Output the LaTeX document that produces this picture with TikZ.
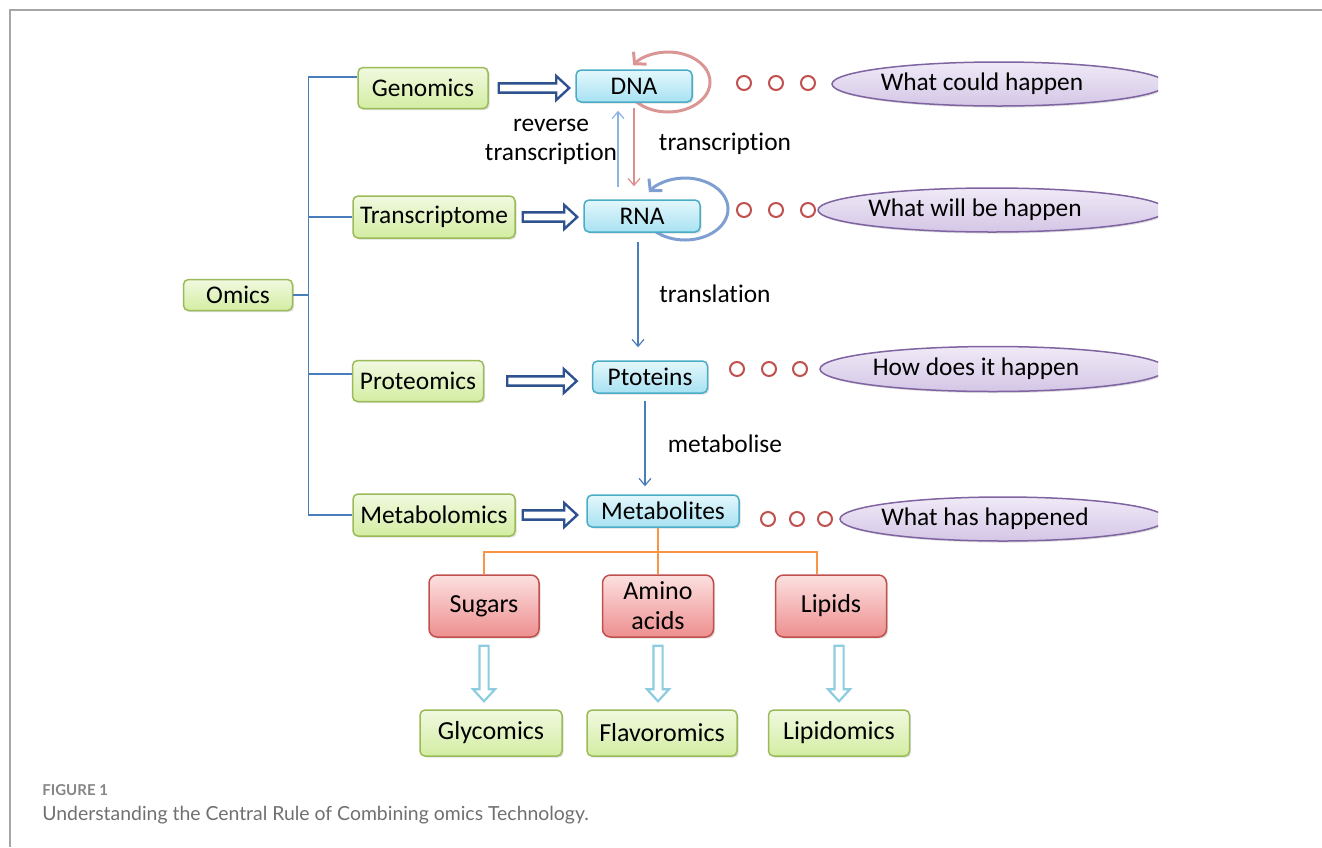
\documentclass[tikz,border=0pt]{standalone}
\usepackage{fontspec}
\setmainfont{Carlito}[Ligatures=NoCommon]
\newfontfamily\capfont{Lato}
\usetikzlibrary{calc,positioning,shapes.geometric,shadows,backgrounds}
\usetikzlibrary{arrows.meta}

\definecolor{grnline}{HTML}{9BBB59}
\definecolor{grntop}{HTML}{F1F9E0}
\definecolor{grnbot}{HTML}{D3EDA2}
\definecolor{cyanline}{HTML}{4BACC6}
\definecolor{cyantop}{HTML}{E3F7FC}
\definecolor{cyanbot}{HTML}{A8E2F2}
\definecolor{redline}{HTML}{C0504D}
\definecolor{redtop}{HTML}{FCE0E0}
\definecolor{redbot}{HTML}{EE8F8F}
\definecolor{purpline}{HTML}{8064A2}
\definecolor{purptop}{HTML}{F0EAF7}
\definecolor{purpbot}{HTML}{D4C6E6}
\definecolor{navy}{HTML}{2E528F}
\definecolor{lineblue}{HTML}{4A7EBB}
\definecolor{paleblue}{HTML}{8DB3E2}
\definecolor{palered}{HTML}{DA8F8C}
\definecolor{loopblue}{HTML}{7F9FD3}
\definecolor{loopred}{HTML}{D99694}
\definecolor{sky}{HTML}{8ECDE0}
\definecolor{orangeline}{HTML}{F79646}
\definecolor{capgray}{HTML}{707070}
\definecolor{framegray}{HTML}{A6A6A6}

\tikzset{
  box/.style={rectangle, rounded corners=2.5pt, line width=0.75pt, inner sep=0pt,
    drop shadow={opacity=0.25, shadow xshift=0.8pt, shadow yshift=-0.8pt},
    font=\fontsize{12.7}{14}\selectfont},
  omicbox/.style={box, draw=grnline, top color=grntop, bottom color=grnbot},
  molbox/.style={box, draw=cyanline, top color=cyantop, bottom color=cyanbot},
  classbox/.style={box, rounded corners=4pt, draw=redline, top color=redtop, bottom color=redbot,
    align=center, font=\fontsize{13}{15}\selectfont},
  question/.style={ellipse, line width=0.75pt, draw=purpline, top color=purptop, bottom color=purpbot,
    inner sep=0pt, drop shadow={opacity=0.25, shadow xshift=0.8pt, shadow yshift=-0.8pt}},
  qtext/.style={font=\fontsize{12.7}{14}\selectfont},
  lbl/.style={font=\fontsize{12.7}{14.5}\selectfont, align=center},
  btree/.style={lineblue, line width=0.6pt},
  otree/.style={orangeline, line width=0.8pt},
  thinarrow/.style={line width=0.6pt, -{Straight Barb[length=3.5pt,width=6pt]}},
  loopline/.style={line width=1.5pt, -{Straight Barb[length=4pt,width=9pt]}},
  hollow/.style={draw=navy, line width=1.2pt, fill=white, line join=miter},
  hollowsky/.style={draw=sky, line width=1.1pt, fill=white, line join=miter},
  dots/.style={redline, line width=1pt},
}

% block arrows (pointing right / pointing down)
\newcommand{\hollowright}[2]{\draw[hollow] let \p1=(#1), \p2=(#2) in
  (\x1,\y1+2.3pt) -- (\x2-6.5pt,\y1+2.3pt) -- (\x2-6.5pt,\y1+6pt) -- (\x2,\y1)
  -- (\x2-6.5pt,\y1-6pt) -- (\x2-6.5pt,\y1-2.3pt) -- (\x1,\y1-2.3pt) -- cycle;}
\newcommand{\hollowdown}[2]{\draw[hollowsky] let \p1=(#1), \p2=(#2) in
  (\x1-2.3pt,\y1) -- (\x1-2.3pt,\y2+6pt) -- (\x1-5.5pt,\y2+6pt) -- (\x1,\y2)
  -- (\x1+5.5pt,\y2+6pt) -- (\x1+2.3pt,\y2+6pt) -- (\x1+2.3pt,\y1) -- cycle;}

\begin{document}
\begin{tikzpicture}[x=0.5pt,y=-0.5pt]
\useasboundingbox (0,0) rectangle (1322,847);

% frame
\draw[framegray, line width=1pt] (10,847) -- (10,10) -- (1322,10);

% omics levels
\node[omicbox, minimum width=54.5pt, minimum height=15.5pt] (omics) at (238,295) {Omics};
\node[omicbox, minimum width=65pt, minimum height=20.5pt] (gen) at (423,88) {Genomics};
\node[omicbox, minimum width=81pt, minimum height=21pt] (trs) at (434,217) {Transcriptome};
\node[omicbox, minimum width=65.5pt, minimum height=20.5pt] (prt) at (418,381) {Proteomics};
\node[omicbox, minimum width=81pt, minimum height=21pt] (mtb) at (434,515) {Metabolomics};

% molecules
\node[molbox, minimum width=58pt, minimum height=16pt] (dna) at (634,86) {DNA};
\node[molbox, minimum width=58pt, minimum height=16pt] (rna) at (642,216) {RNA};
\node[molbox, minimum width=57.5pt, minimum height=16pt] (ptn) at (650,377) {Ptoteins};
\node[molbox, minimum width=76pt, minimum height=16pt] (met) at (663,511) {Metabolites};

% metabolite classes
\node[classbox, minimum width=55pt, minimum height=31pt] (sug) at (484,606) {Sugars};
\node[classbox, minimum width=55.5pt, minimum height=31pt] (ami) at (658,606) {Amino\\acids};
\node[classbox, minimum width=55.5pt, minimum height=31pt] (lip) at (831,606) {Lipids};
\node[omicbox, minimum width=71pt, minimum height=23pt, font=\fontsize{13}{15}\selectfont] (gly) at (491,733) {Glycomics};
\node[omicbox, minimum width=75pt, minimum height=23pt, font=\fontsize{13}{15}\selectfont] (fla) at (662,733) {Flavoromics};
\node[omicbox, minimum width=70.5pt, minimum height=23pt, font=\fontsize{13}{15}\selectfont] (lpd) at (839,733) {Lipidomics};

% questions
\begin{scope}
\clip (0,0) rectangle (1158,847);
\node[question, minimum width=167pt, minimum height=22pt] (q1) at (999,84) {};
\node[question, minimum width=174pt, minimum height=22pt] (q2) at (992,210) {};
\node[question, minimum width=173pt, minimum height=22.5pt] (q3) at (993,369) {};
\node[question, minimum width=163pt, minimum height=22pt] (q4) at (1003,519) {};
\end{scope}
\node[qtext] (t1) at (982,84) {What could happen};
\node[qtext] (t2) at (975,210) {What will be happen};
\node[qtext] (t3) at (976,369) {How does it happen};
\node[qtext] (t4) at (985,519) {What has happened};

\foreach \cx/\cy in {744/83,776/83,808/83,744/210,776/210,808/210,
                     737/369,769/369,800/369,768/519,797/519,825/519}
  \draw[dots] (\cx,\cy) circle[radius=3.5pt];

% omics tree
\coordinate (trunk) at ($(omics.east)+(15,0)$);
\draw[btree] (omics.east) -- (trunk);
\draw[btree] ([yshift=5.5pt]gen.west) -| (trunk) |- (mtb.west);
\draw[btree] (trs.west) -| (trunk);
\draw[btree] ([yshift=3.5pt]prt.west) -| (trunk);

% block arrows
\hollowright{[xshift=5pt]gen.east}{[xshift=-3pt]dna.west}
\hollowright{[xshift=3.5pt]trs.east}{[xshift=-3pt]rna.west}
\hollowright{[xshift=11.5pt]prt.east}{[xshift=-7.5pt]ptn.west}
\hollowright{[xshift=3.5pt]mtb.east}{[xshift=-4.5pt]met.west}

% flow
\draw[thinarrow, paleblue] ($(rna.north)+(-24,-12)$) -- ($(dna.south)+(-16,8)$);
\draw[thinarrow, palered] ($(dna.south)+(0,5)$) -- ($(rna.north)+(-8,-13)$);
\draw[thinarrow, lineblue] ($(rna.south)+(-4,9)$) -- ($(ptn.north)+(-12,-13)$);
\draw[thinarrow, lineblue] ($(ptn.south)+(-5,7)$) -- ($(met.north)+(-18,-8)$);
\node[lbl] (rt) at (551,142) {reverse\\transcription};
\node[lbl] (tc) at (725,144) {transcription};
\node[lbl] (tl) at (715,294) {translation};
\node[lbl] (mb) at (725,444) {metabolise};

% self loops
\begin{scope}[on background layer]
\draw[loopline, loopred] ($(dna)+(34,-4)$) ++(-140:21pt and 15pt)
  arc[start angle=-140, end angle=146, x radius=21pt, y radius=15pt];
\draw[loopline, loopblue] ($(rna)+(43,-7)$) ++(-140:21.5pt and 15.5pt)
  arc[start angle=-140, end angle=147, x radius=21.5pt, y radius=15.5pt];
\end{scope}

% metabolite branches
\coordinate (split) at ($(met.south)+(0,24)$);
\draw[otree] (sug.north) |- ([xshift=-7pt]lip.north |- split) -- ([xshift=-7pt]lip.north);
\draw[otree] (ami.north) -- (ami.north |- met.south);
\hollowdown{$(sug.south)+(0,8)$}{$(sug.south |- gly.north)+(0,-8)$}
\hollowdown{$(ami.south)+(0,8)$}{$(ami.south |- fla.north)+(0,-8)$}
\hollowdown{$(lpd.north |- lip.south)+(0,8)$}{$(lpd.north)+(0,-8)$}

% caption
\node[anchor=base west, inner sep=0pt, font=\capfont\bfseries\fontsize{7.5}{8}\selectfont, text=capgray!85] (fig) at (42,795) {FIGURE 1};
\node[anchor=base west, inner sep=0pt, font=\capfont\fontsize{9.7}{11}\selectfont, text=capgray] (cap) at (42,820) {Understanding the Central Rule of Combining omics Technology.};
\end{tikzpicture}
\end{document}
